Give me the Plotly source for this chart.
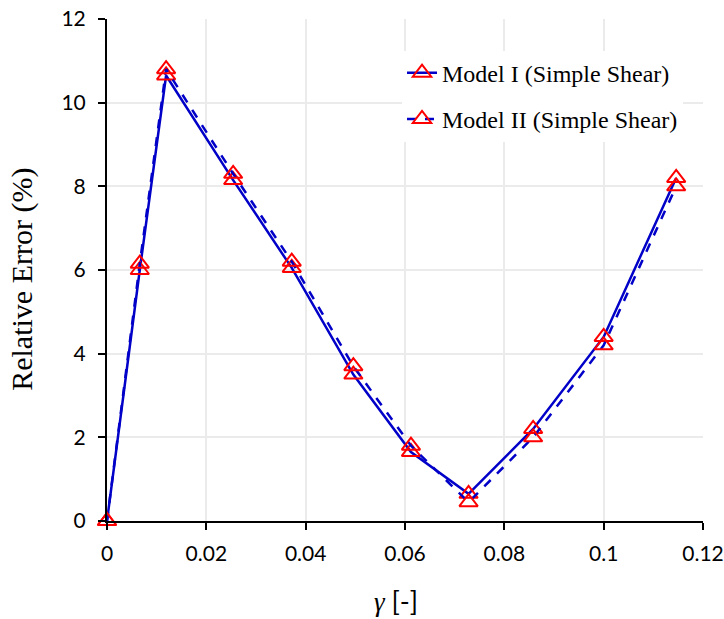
import plotly.graph_objects as go

# shear strain values
gamma = [0.0, 0.0066, 0.0119, 0.0254, 0.0372, 0.0496, 0.0612, 0.0728, 0.0858, 0.1000, 0.1146]
# relative error (%) for each model
err_model1 = [0.0, 6.0, 10.65, 8.15, 6.05, 3.5, 1.65, 0.65, 2.2, 4.4, 8.2]
err_model2 = [0.0, 6.15, 10.8, 8.3, 6.2, 3.7, 1.8, 0.45, 2.0, 4.2, 8.0]

x_ticks = [0, 0.02, 0.04, 0.06, 0.08, 0.1, 0.12]
x_tick_text = ["0", "0.02", "0.04", "0.06", "0.08", "0.1", "0.12"]
y_ticks = [0, 2, 4, 6, 8, 10, 12]

blue = "#0000C8"
red = "#FF0000"
marker = dict(symbol="triangle-up-open", size=16, color=red, line=dict(color=red, width=2))

fig = go.Figure()
fig.add_trace(go.Scatter(
    x=gamma, y=err_model1, mode="lines+markers",
    name="Model I (Simple Shear)", legendgroup="m1",
    line=dict(color=blue, width=2.5),
    marker=marker, cliponaxis=False,
))
fig.add_trace(go.Scatter(
    x=gamma, y=err_model2, mode="lines+markers",
    name="Model II (Simple Shear)", legendgroup="m2",
    line=dict(color=blue, width=2.5, dash="dash"),
    marker=marker, cliponaxis=False,
))

tick_font = dict(family="Lato, 'Open Sans', sans-serif", size=21, color="#000000")
serif = "Liberation Serif, 'Times New Roman', serif"

# axis titles placed as annotations
fig.add_annotation(
    text="Relative Error (%)", textangle=-90,
    xref="paper", yref="paper", x=-0.143, y=0.482,
    xanchor="center", yanchor="middle", showarrow=False,
    font=dict(family=serif, size=30, color="#000000"),
)
fig.add_annotation(
    text="<i>γ</i> <span style='font-family:Lato'>[-]</span>",
    xref="paper", yref="paper", x=0.485, y=-0.158,
    xanchor="center", yanchor="middle", showarrow=False,
    font=dict(family=serif, size=27, color="#000000"),
)

fig.update_layout(
    width=724, height=619,
    margin=dict(l=107, r=21, t=19, b=98),
    paper_bgcolor="white", plot_bgcolor="white",
    showlegend=True,
    legend=dict(
        x=0.495, y=0.937, xanchor="left", yanchor="top",
        bgcolor="white",
        font=dict(family=serif, size=24, color="#000000"),
        tracegroupgap=12,
    ),
    xaxis=dict(
        range=[0, 0.12],
        tickvals=x_ticks, ticktext=x_tick_text,
        tickfont=tick_font,
        ticklabeloverflow="allow",
        showgrid=True, gridcolor="#EBEBEB", gridwidth=2,
        showline=True, linecolor="#000000", linewidth=2,
        ticks="outside", ticklen=7, tickwidth=1.5, tickcolor="#000000",
        ticklabelstandoff=6,
        zeroline=False, automargin=False,
    ),
    yaxis=dict(
        range=[0, 12],
        tickvals=y_ticks,
        tickfont=tick_font,
        ticklabeloverflow="allow",
        showgrid=True, gridcolor="#EBEBEB", gridwidth=2,
        showline=True, linecolor="#000000", linewidth=2,
        ticks="outside", ticklen=7, tickwidth=1.5, tickcolor="#000000",
        ticklabelstandoff=8,
        zeroline=False, automargin=False,
    ),
)

fig.write_html("out.html")
